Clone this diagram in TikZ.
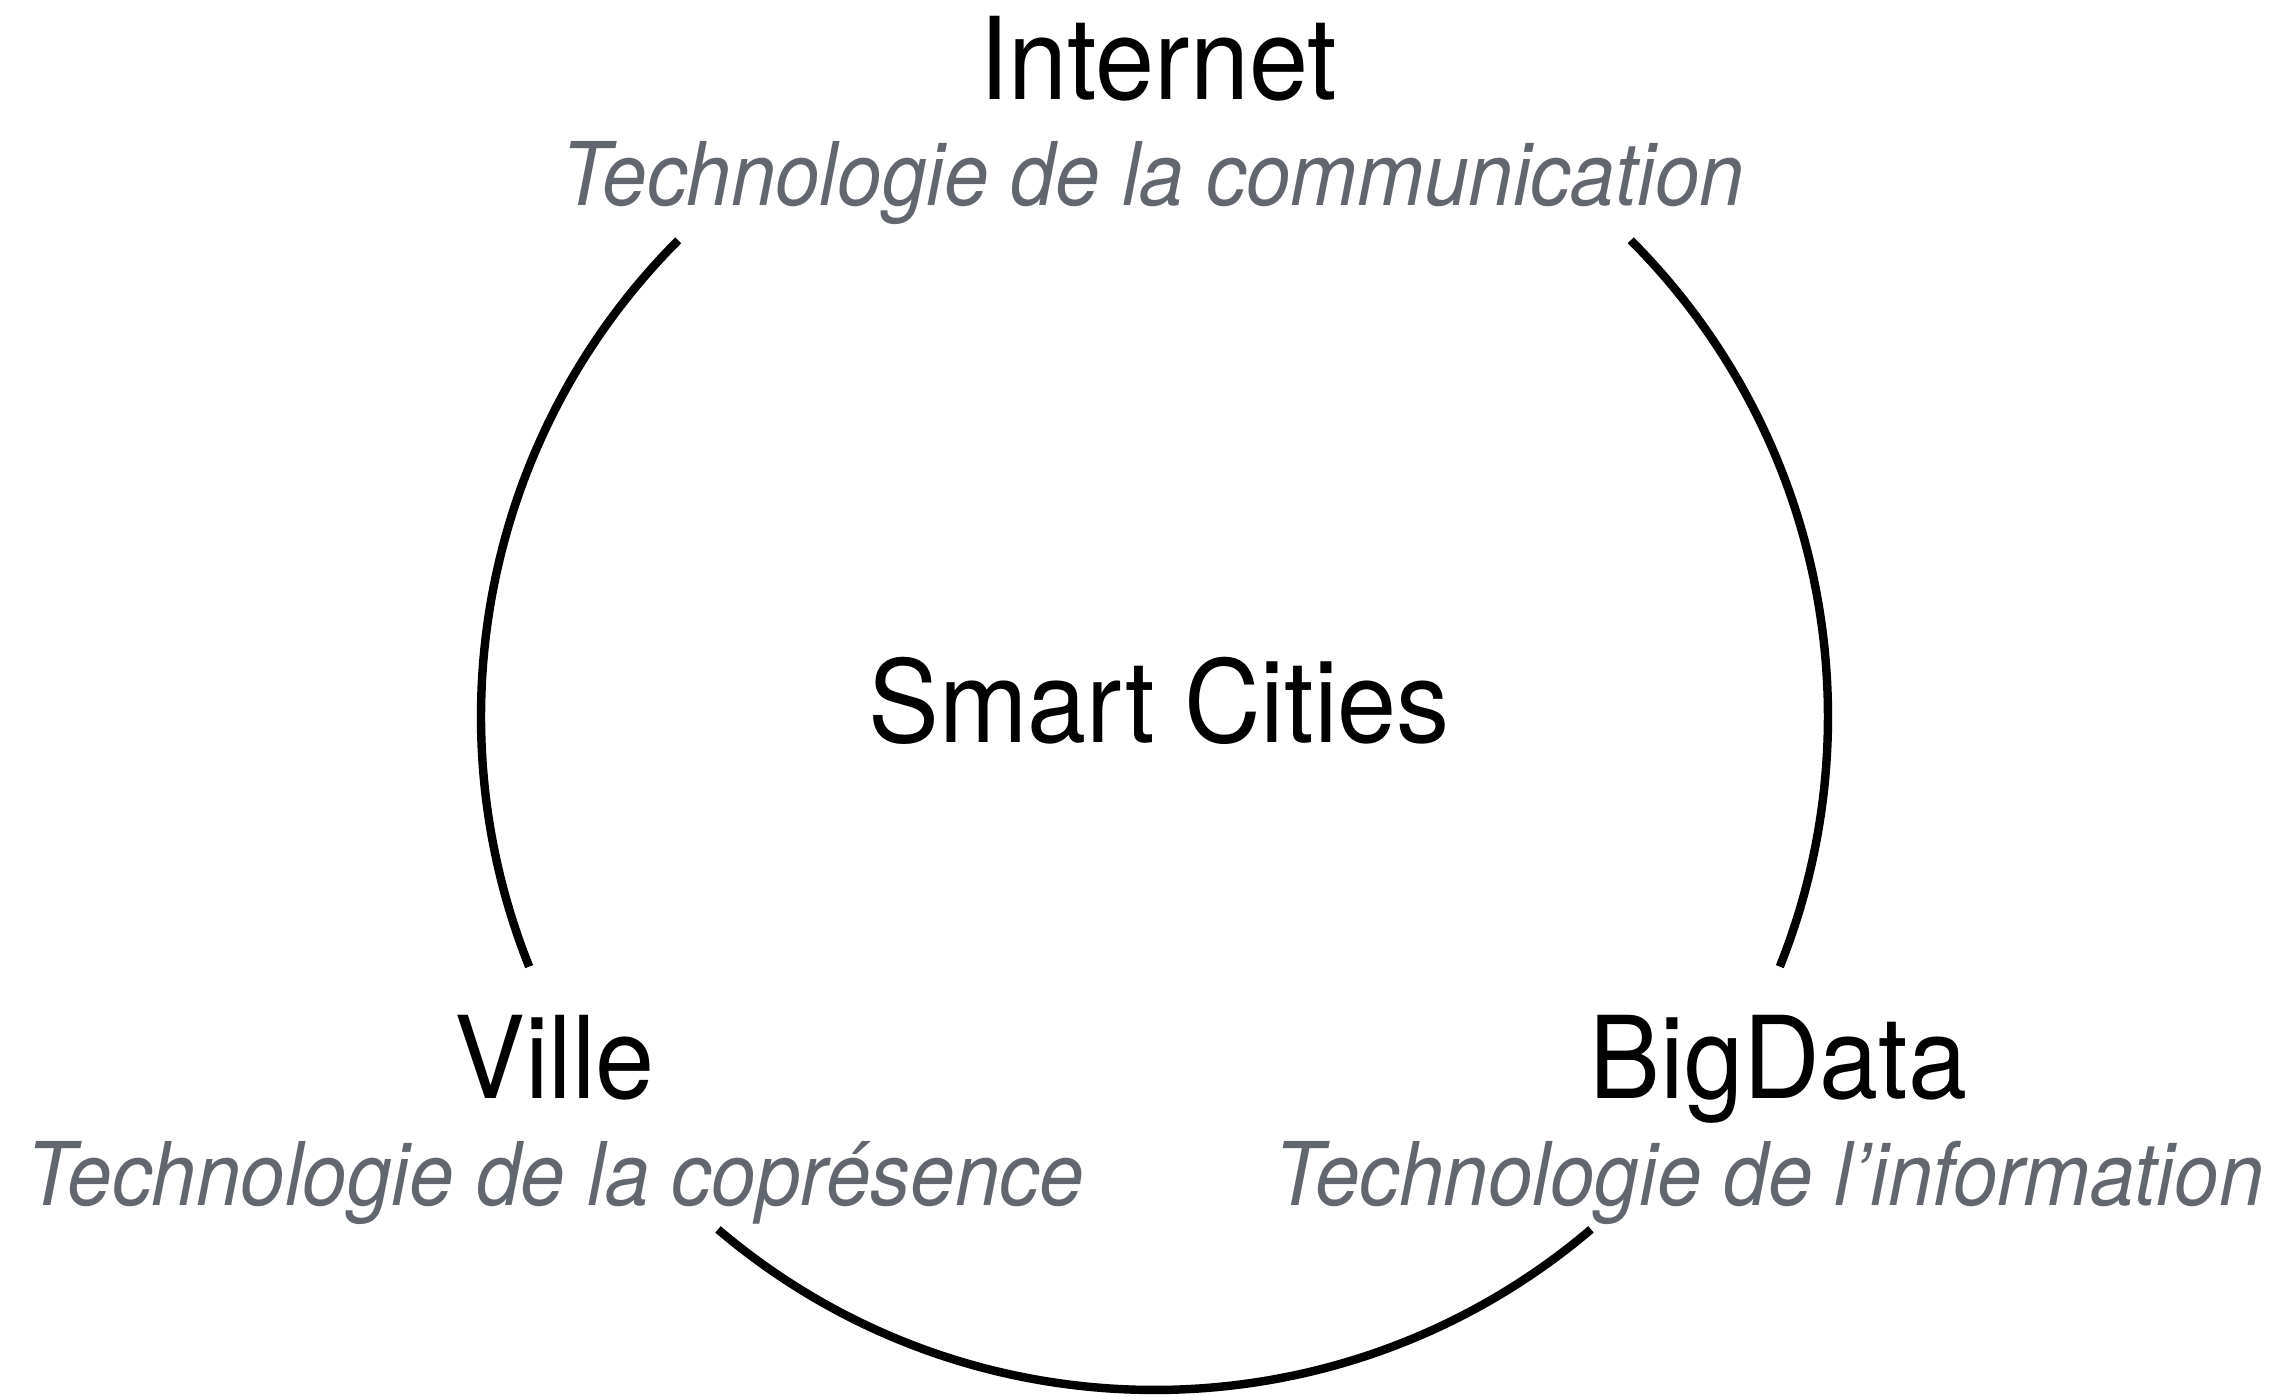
\documentclass[tikz,border=0pt]{standalone}
\usepackage{fontspec}
\setmainfont{TeX Gyre Heros}[FakeStretch=0.93]
\newfontfamily\subfont{TeX Gyre Heros}[FakeStretch=0.91]
\usetikzlibrary{positioning}
\definecolor{subgray}{RGB}{98,102,110}
\tikzstyle{ttl}=[anchor=base, inner sep=0pt, font=\fontsize{32.5}{36}\selectfont]
\tikzstyle{sub}=[anchor=base, inner sep=0pt, text=subgray, font=\subfont\itshape\fontsize{25}{30}\selectfont]
\tikzstyle{ring}=[line width=2.4pt]
\newcommand{\ringr}{6.735}

\begin{document}
\begin{tikzpicture}[scale=1]
\useasboundingbox (-11.545,-6.795) rectangle (11.305,7.165);

\coordinate (o) at (0,0);

\node (inet) [ttl] at (0.035,6.17) {Internet};
\node (inetsub) [sub] at (-0.015,5.115) {Technologie de la communication};
\node (sc) [ttl] at (0.045,-0.26) {Smart Cities};
\node (city) [ttl] at (-6.0,-3.82) {Ville};
\node (citysub) [sub] at (-5.99,-4.885) {Technologie de la coprésence};
\node (data) [ttl] at (6.24,-3.82) {BigData};
\node (datasub) [sub] at (6.145,-4.885) {Technologie de l’information};

% arcs of the ring between the labels
\draw[ring] ([shift={(135:\ringr)}]o) arc (135:201.8:\ringr);
\draw[ring] ([shift={(229.6:\ringr)}]o) arc (229.6:310.4:\ringr);
\draw[ring] ([shift={(-21.8:\ringr)}]o) arc (-21.8:45:\ringr);

\end{tikzpicture}
\end{document}
